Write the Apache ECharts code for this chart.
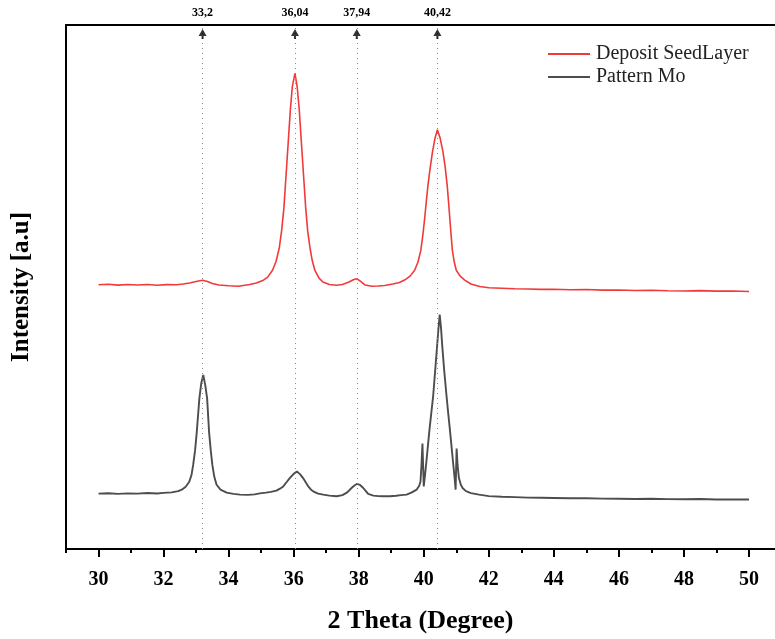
<!DOCTYPE html>
<html>
<head>
<meta charset="utf-8">
<script src="https://cdn.jsdelivr.net/npm/echarts@6/dist/echarts.min.js"></script>
<style>
html,body{margin:0;padding:0;background:#fff;}
#chart{width:775px;height:639px;}
</style>
</head>
<body>
<div id="chart"></div>
<script>
// ---- data (intensity in arbitrary units) ----
const seriesNames = ['Deposit SeedLayer', 'Pattern Mo'];

const redTheta = [30.0,30.3,30.6,30.9,31.2,31.5,31.8,32.1,32.4,32.6,32.8,33.0,33.2,33.35,33.5,33.7,34.0,34.3,34.5,34.65,34.85,35.05,35.2,35.35,35.46,35.56,35.63,35.70,35.75,35.80,35.85,35.90,35.96,36.04,36.11,36.17,36.22,36.27,36.32,36.37,36.43,36.50,36.57,36.65,36.78,36.90,37.1,37.32,37.5,37.7,37.85,37.94,38.05,38.2,38.4,38.6,38.8,39.05,39.25,39.41,39.58,39.72,39.82,39.91,39.97,40.03,40.08,40.13,40.20,40.27,40.35,40.42,40.50,40.59,40.66,40.72,40.76,40.80,40.84,40.88,40.94,41.00,41.12,41.26,41.45,41.72,42.0,42.4,42.8,43.2,43.6,44.0,44.5,45.0,45.5,46.0,46.5,47.0,47.5,48.0,48.5,49.0,49.5,50.0];
const redIntensity = [267.3,267.8,266.9,267.5,267.0,267.6,266.8,267.4,267.2,268.0,269.0,270.5,271.8,270.5,268.5,267.0,266.3,265.8,266.8,267.5,269.0,271.5,275.0,282.0,291.0,305.0,322.0,345.0,370.0,395.0,420.0,445.0,468.0,481.0,467.0,445.0,420.0,395.0,370.0,345.0,322.0,305.0,292.0,282.0,274.0,270.0,267.5,266.8,267.5,270.0,272.5,273.3,271.0,267.0,265.8,266.0,266.5,268.0,269.5,272.0,276.0,282.0,290.0,302.0,317.0,335.0,352.0,368.0,386.0,402.0,416.0,424.0,416.0,402.0,386.0,368.0,352.0,335.0,318.0,302.0,290.0,282.0,276.0,272.0,268.0,265.5,264.3,263.8,263.2,263.0,262.6,262.8,262.2,262.4,261.8,262.0,261.5,261.7,261.2,261.0,261.3,260.8,260.9,260.5];

const grayTheta = [30.0,30.3,30.6,30.9,31.2,31.5,31.8,32.0,32.25,32.45,32.56,32.68,32.79,32.86,32.91,32.97,33.02,33.06,33.10,33.16,33.22,33.28,33.34,33.37,33.40,33.45,33.50,33.56,33.63,33.75,33.94,34.15,34.35,34.6,34.8,34.96,35.15,35.3,35.47,35.58,35.68,35.78,35.88,36.0,36.10,36.20,36.29,36.37,36.45,36.52,36.60,36.75,36.91,37.1,37.32,37.5,37.62,37.70,37.78,37.86,37.95,38.05,38.14,38.22,38.29,38.45,38.6,38.75,38.96,39.15,39.3,39.47,39.62,39.78,39.86,39.90,39.93,39.96,39.98,40.00,40.04,40.08,40.13,40.18,40.24,40.29,40.35,40.41,40.45,40.49,40.53,40.57,40.63,40.70,40.75,40.80,40.85,40.90,40.94,40.98,41.01,41.04,41.08,41.14,41.2,41.3,41.45,41.7,42.0,42.4,42.8,43.2,43.6,44.0,44.5,45.0,45.5,46.0,46.5,47.0,47.5,48.0,48.5,49.0,49.5,50.0];
const grayIntensity = [56.0,56.4,55.8,56.3,56.0,56.6,56.2,56.8,57.3,58.5,60.0,63.0,68.0,75.0,85.0,100.0,118.0,135.0,152.0,168.0,176.0,166.0,152.0,135.0,118.0,100.0,85.0,73.0,65.0,60.0,57.0,55.8,55.0,54.7,55.2,56.3,57.0,57.8,59.0,61.0,63.3,67.5,71.7,76.0,78.3,75.5,71.7,67.5,63.3,60.5,58.3,56.0,55.0,54.0,53.3,54.5,56.7,59.0,61.7,64.0,66.0,64.5,61.7,58.5,55.7,54.0,53.5,53.3,53.3,53.8,54.5,55.0,57.0,60.0,64.0,68.3,85.0,106.7,85.0,63.3,75.0,88.0,105.0,122.0,140.0,155.0,180.0,205.0,222.0,237.0,224.0,205.0,180.0,155.0,138.0,122.0,105.0,88.0,75.0,60.0,101.7,85.0,72.0,65.0,61.5,58.5,56.5,55.0,53.5,52.8,52.5,52.0,51.8,51.6,51.3,51.4,51.0,50.9,50.6,50.8,50.4,50.3,50.5,50.1,50.2,50.0];

const peakPositions = [33.2, 36.04, 37.94, 40.42];
const peakLabels = ['33,2', '36,04', '37,94', '40,42'];

const majorTicks = [30,32,34,36,38,40,42,44,46,48,50];
const minorTicks = [29,31,33,35,37,39,41,43,45,47,49];

const xMin = 29, xMax = 50.8, yMin = 0, yMax = 530;
const arrowLevel = 521;

// ---- chart ----
const FONT = 'Liberation Serif';
const zip = (a, b) => a.map((v, i) => [v, b[i]]);

const chart = echarts.init(document.getElementById('chart'), null, {renderer: 'canvas'});
chart.setOption({
  animation: false,
  backgroundColor: '#ffffff',
  grid: {left: 66, right: 0, top: 25, bottom: 84, containLabel: false},
  legend: {
    data: seriesNames.map(n => ({name: n, icon: 'rect'})),
    orient: 'vertical',
    left: 548,
    top: 44,
    padding: 0,
    itemWidth: 42,
    itemHeight: 2,
    itemGap: 3,
    textStyle: {fontFamily: FONT, fontSize: 20, color: '#222', lineHeight: 20, padding: [0, 0, 0, 1]}
  },
  xAxis: [
    {
      type: 'value', min: xMin, max: xMax, position: 'bottom',
      name: '2 Theta (Degree)', nameLocation: 'middle', nameGap: 59,
      nameTextStyle: {fontFamily: FONT, fontSize: 26, fontWeight: 'bold', color: '#000'},
      axisLine: {show: true, lineStyle: {color: '#000', width: 2}},
      axisTick: {show: true, length: 8, customValues: majorTicks, lineStyle: {color: '#000', width: 2}},
      axisLabel: {show: true, customValues: majorTicks, margin: 21, fontFamily: FONT, fontSize: 20, fontWeight: 'bold', color: '#000'},
      splitLine: {show: false}
    },
    {
      type: 'value', min: xMin, max: xMax, position: 'bottom', offset: 0,
      axisLine: {show: false},
      axisTick: {show: true, length: 4, customValues: minorTicks, lineStyle: {color: '#000', width: 2}},
      axisLabel: {show: false},
      splitLine: {show: false}
    },
    {
      type: 'value', min: xMin, max: xMax, position: 'top',
      axisLine: {show: true, lineStyle: {color: '#000', width: 2}},
      axisTick: {show: false},
      axisLabel: {
        show: true, customValues: peakPositions, margin: 6,
        fontFamily: FONT, fontSize: 12, fontWeight: 'bold', color: '#000',
        formatter: v => {
          const i = peakPositions.findIndex(p => Math.abs(p - v) < 1e-6);
          return i >= 0 ? peakLabels[i] : '';
        }
      },
      splitLine: {show: false}
    }
  ],
  yAxis: {
    type: 'value', min: yMin, max: yMax,
    name: 'Intensity [a.u]', nameLocation: 'middle', nameGap: 32,
    nameTextStyle: {fontFamily: FONT, fontSize: 25, fontWeight: 'bold', color: '#000'},
    axisLine: {show: true, lineStyle: {color: '#000', width: 2}},
    axisTick: {show: false},
    axisLabel: {show: false},
    splitLine: {show: false}
  },
  series: [
    {
      name: seriesNames[0], type: 'line', xAxisIndex: 0, yAxisIndex: 0,
      data: zip(redTheta, redIntensity), symbol: 'none', smooth: false,
      lineStyle: {color: '#f03a3a', width: 1.6}, itemStyle: {color: '#f03a3a'}, z: 3
    },
    {
      name: seriesNames[1], type: 'line', xAxisIndex: 0, yAxisIndex: 0,
      data: zip(grayTheta, grayIntensity), symbol: 'none', smooth: false,
      lineStyle: {color: '#4d4d4d', width: 1.9}, itemStyle: {color: '#4d4d4d'}, z: 3
    },
    {
      name: 'peaks', type: 'scatter', xAxisIndex: 0, yAxisIndex: 0,
      data: peakPositions.map(p => [p, arrowLevel]),
      symbol: 'path://M4,0 L8,7 L5,7 L5,10 L3,10 L3,7 L0,7 Z',
      symbolSize: [8, 10],
      itemStyle: {color: '#000'},
      silent: true, z: 5,
      markLine: {
        silent: true, symbol: 'none', label: {show: false},
        lineStyle: {color: '#8a8a8a', width: 1, type: [1, 4]},
        data: peakPositions.map(p => ({xAxis: p}))
      }
    }
  ]
});
</script>
</body>
</html>
